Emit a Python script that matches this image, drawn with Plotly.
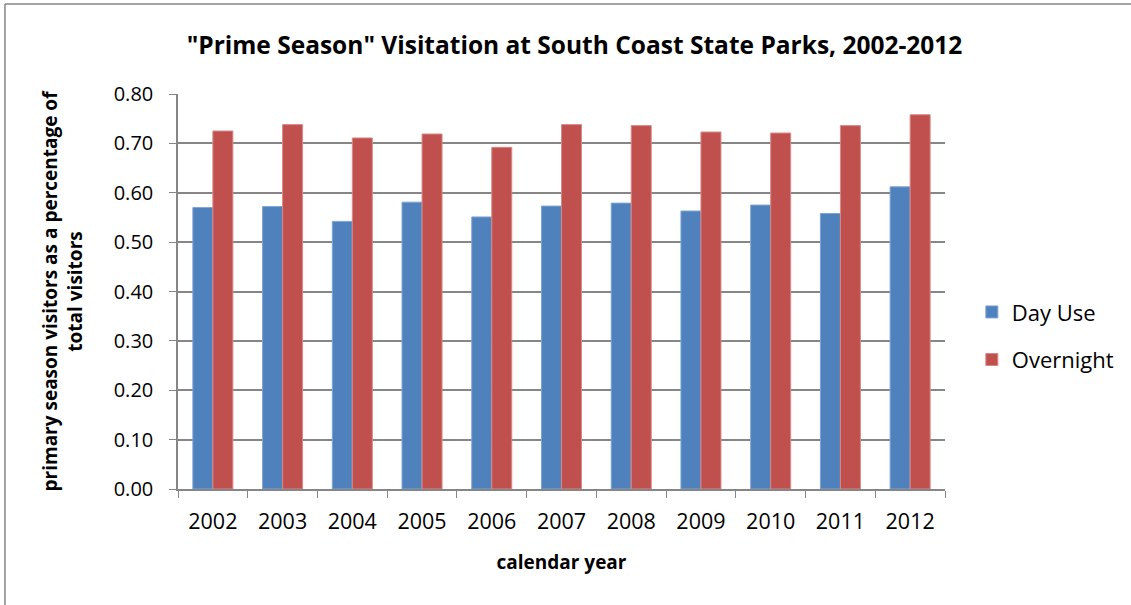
import plotly.graph_objects as go

years = ["2002", "2003", "2004", "2005", "2006", "2007", "2008", "2009", "2010", "2011", "2012"]
day_use = [0.570, 0.572, 0.542, 0.581, 0.551, 0.573, 0.579, 0.563, 0.575, 0.558, 0.612]
overnight = [0.725, 0.738, 0.711, 0.719, 0.692, 0.738, 0.736, 0.723, 0.721, 0.736, 0.758]

FONT = "Open Sans"
fig = go.Figure()
fig.add_trace(go.Bar(x=years, y=day_use, name="Day Use", marker=dict(color="#4F81BD", line=dict(color="#7FA4D3", width=1)), legendgroup="a"))
fig.add_trace(go.Bar(x=years, y=overnight, name="Overnight", marker=dict(color="#C0504D", line=dict(color="#D88A88", width=1)), legendgroup="b"))

fig.update_layout(
    width=1131, height=605,
    margin=dict(l=178, r=186, t=94, b=116),
    paper_bgcolor="white", plot_bgcolor="white",
    barmode="group", bargap=0.426, bargroupgap=0,
    font=dict(family=FONT, color="black"),
    title=dict(text='<b>"Prime Season" Visitation at South Coast State Parks, 2002-2012</b>',
               x=0.508, xanchor="center", y=0.925, yanchor="middle", font=dict(size=24.5, family=FONT)),
    legend=dict(x=1.035, y=0.387, xanchor="left", yanchor="middle", font=dict(size=22),
                tracegroupgap=16, traceorder="grouped"),
    xaxis=dict(showline=True, linecolor="#868686", linewidth=1.5, ticks="outside", tickson="boundaries",
               ticklen=7, tickcolor="#868686", tickfont=dict(size=21.5), ticklabelstandoff=12,
               title=dict(text="<b>calendar year</b>", font=dict(size=19), standoff=22)),
    yaxis=dict(range=[0, 0.8], dtick=0.1, tickformat=".2f", showline=True, linecolor="#868686", linewidth=1.5,
               ticks="outside", ticklen=7, tickcolor="#868686", tickfont=dict(size=20), ticklabelstandoff=12,
               showgrid=True, gridcolor="#868686", gridwidth=1.5, zeroline=False,
               title=dict(text="<b>primary season visitors as a percentage of<br>total visitors</b>", font=dict(size=19), standoff=26)),
    shapes=[
        dict(type="line", xref="paper", yref="paper", x0=-0.2256, x1=1.3, y0=1.2278, y1=1.2278, line=dict(color="#868686", width=1.5)),
        dict(type="line", xref="paper", yref="paper", x0=-0.2256, x1=-0.2256, y0=1.2278, y1=-0.4, line=dict(color="#868686", width=1.5)),
    ],
)
fig.write_html("out.html")
